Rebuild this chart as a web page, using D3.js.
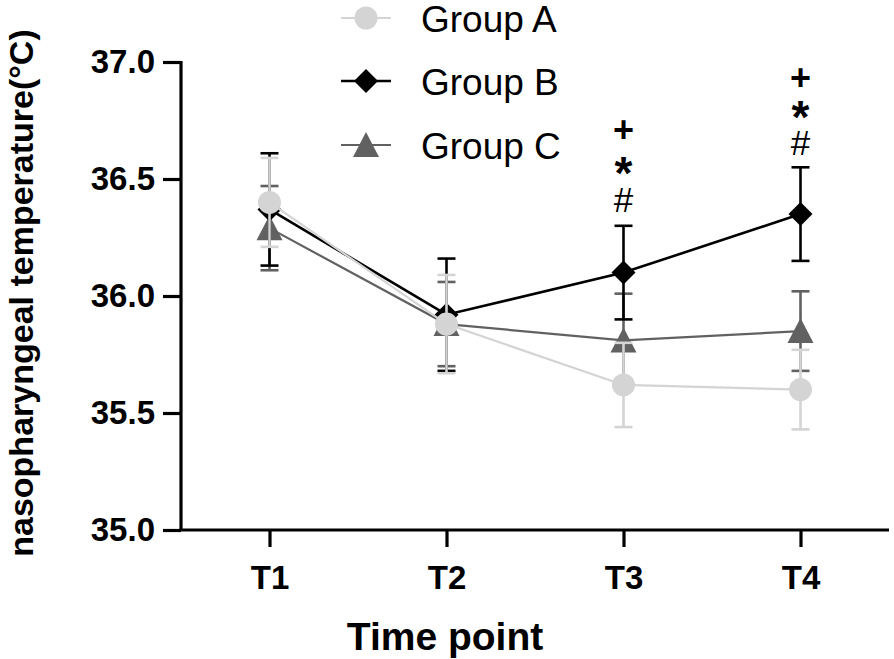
<!DOCTYPE html>
<html>
<head>
<meta charset="utf-8">
<script src="https://cdn.jsdelivr.net/npm/d3@7"></script>
<style>
  html, body { margin: 0; padding: 0; background: #fff; }
  svg { display: block; }
  text { font-family: "Liberation Sans", Arial, Helvetica, sans-serif; }
</style>
</head>
<body>
<svg id="chart" width="894" height="659"></svg>
<script>
// ---- data ----
const timePoints = ["T1", "T2", "T3", "T4"];
const groupNames = ["Group A", "Group B", "Group C"];
const groupA = [36.40, 35.88, 35.62, 35.60];
const groupA_sd = [0.19, 0.21, 0.18, 0.17];
const groupB = [36.37, 35.92, 36.10, 36.35];
const groupB_sd = [0.24, 0.24, 0.20, 0.20];
const groupC = [36.29, 35.88, 35.81, 35.85];
const groupC_sd = [0.18, 0.18, 0.20, 0.17];
const yTicks = [35.0, 35.5, 36.0, 36.5, 37.0];
const sigTimePoints = ["T3", "T4"];
const sigMarks = ["#", "*", "+"];
const yLabel = "nasopharyngeal temperature(°C)";
const xLabel = "Time point";

// ---- layout ----
const svg = d3.select("#chart");
const pLeft = 181, pRight = 889, pTop = 62, pBottom = 530;

const x = d3.scalePoint().domain(timePoints).range([pLeft, pRight]).padding(0.5);
const y = d3.scaleLinear().domain([35, 37]).range([pBottom, pTop]);

const styles = {
  "Group A": { color: "#d4d4d4", shape: "circle", width: 2.2 },
  "Group B": { color: "#000000", shape: "diamond", width: 2.6 },
  "Group C": { color: "#616161", shape: "triangle", width: 2.2 }
};
const series = [
  { name: "Group A", mean: groupA, sd: groupA_sd },
  { name: "Group B", mean: groupB, sd: groupB_sd },
  { name: "Group C", mean: groupC, sd: groupC_sd }
];

function markerPath(shape) {
  if (shape === "circle") return d3.symbol().type(d3.symbolCircle).size(Math.PI * 11.5 * 11.5)();
  if (shape === "diamond") return "M0,-12L12,0L0,12L-12,0Z";
  return "M0,-13L13,12L-13,12Z";
}

// ---- axes ----
const yAxis = d3.axisLeft(y).tickValues(yTicks).tickFormat(d3.format(".1f"))
  .tickSize(18).tickPadding(8);
const gy = svg.append("g").attr("transform", `translate(${pLeft},0)`).call(yAxis);
gy.select(".domain").attr("stroke-width", 3.2).attr("d", `M0,${pTop - 1}V${pBottom}`);
gy.selectAll(".tick line").attr("stroke-width", 3.2);
gy.selectAll(".tick text").attr("font-size", 33).attr("font-weight", "bold")
  .attr("fill", "#000").attr("font-family", "'Liberation Sans', Arial, sans-serif");

const xAxis = d3.axisBottom(x).tickSize(17).tickPadding(19);
const gx = svg.append("g").attr("transform", `translate(0,${pBottom})`).call(xAxis);
gx.select(".domain").attr("stroke-width", 3.2).attr("d", `M${pLeft - 1.5},0H${pRight}`);
gx.selectAll(".tick line").attr("stroke-width", 3.2);
gx.selectAll(".tick text").attr("font-size", 33).attr("font-weight", "bold")
  .attr("fill", "#000").attr("font-family", "'Liberation Sans', Arial, sans-serif");

// axis titles
svg.append("text")
  .attr("transform", `translate(33,${(30 + 556) / 2}) rotate(-90)`)
  .attr("text-anchor", "middle").attr("font-size", 34).attr("font-weight", "bold")
  .text(yLabel);
svg.append("text")
  .attr("x", 445).attr("y", 650)
  .attr("text-anchor", "middle").attr("font-size", 39).attr("font-weight", "bold")
  .text(xLabel);

// ---- series (C first, then B, then A on top) ----
const drawOrder = ["Group C", "Group B", "Group A"];
drawOrder.forEach(name => {
  const s = series.find(d => d.name === name);
  const st = styles[name];
  const g = svg.append("g");
  const pts = timePoints.map((t, i) => ({ t, m: s.mean[i], sd: s.sd[i] }));
  // error bars
  pts.forEach(p => {
    const cx = x(p.t);
    g.append("line").attr("x1", cx).attr("x2", cx)
      .attr("y1", y(p.m + p.sd)).attr("y2", y(p.m - p.sd))
      .attr("stroke", st.color).attr("stroke-width", 2.6);
    [p.m + p.sd, p.m - p.sd].forEach(v => {
      g.append("line").attr("x1", cx - 9).attr("x2", cx + 9)
        .attr("y1", y(v)).attr("y2", y(v))
        .attr("stroke", st.color).attr("stroke-width", 2.6);
    });
  });
  // line
  g.append("path").datum(pts)
    .attr("d", d3.line().x(d => x(d.t)).y(d => y(d.m)))
    .attr("fill", "none").attr("stroke", st.color).attr("stroke-width", st.width);
  // markers
  g.selectAll(".mk").data(pts).enter().append("path")
    .attr("transform", d => `translate(${x(d.t)},${y(d.m)})`)
    .attr("d", markerPath(st.shape)).attr("fill", st.color);
});

// ---- significance marks ----
const sigCenters = { "T3": [200, 163, 129], "T4": [143, 107, 77] };
const sigStyle = {
  "#": { size: 35, weight: "normal", k: 0.35 },
  "*": { size: 46, weight: "bold", k: 0.56 },
  "+": { size: 36, weight: "bold", k: 0.35 }
};
sigTimePoints.forEach(t => {
  sigMarks.forEach((m, i) => {
    const cy = sigCenters[t][i];
    const ss = sigStyle[m];
    svg.append("text")
      .attr("x", x(t)).attr("y", cy + ss.k * ss.size)
      .attr("text-anchor", "middle")
      .attr("font-size", ss.size)
      .attr("font-weight", ss.weight)
      .text(m);
  });
});

// ---- legend ----
const legendY = [18, 81, 145];
groupNames.forEach((name, i) => {
  const st = styles[name];
  const g = svg.append("g").attr("transform", `translate(366,${legendY[i]})`);
  g.append("line").attr("x1", -25).attr("x2", 25).attr("y1", 0).attr("y2", 0)
    .attr("stroke", st.color).attr("stroke-width", st.width);
  g.append("path").attr("d", markerPath(st.shape)).attr("fill", st.color);
  g.append("text").attr("x", 55).attr("y", 14)
    .attr("font-size", 37).attr("fill", "#000").text(name);
});
</script>
</body>
</html>
